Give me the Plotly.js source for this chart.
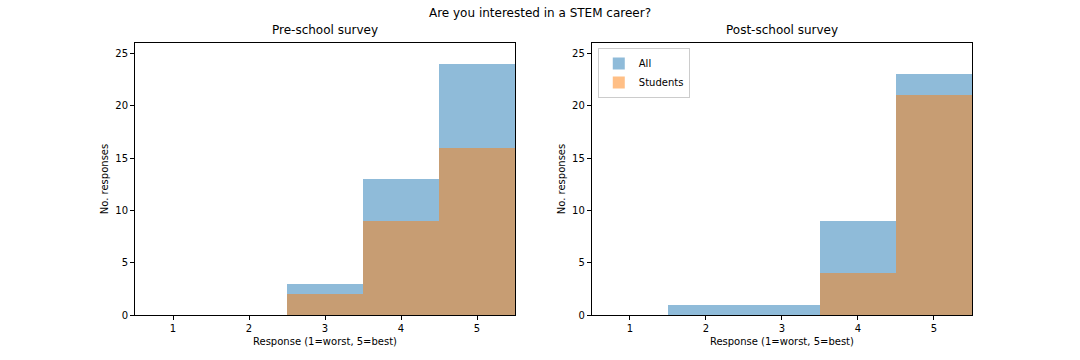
<!DOCTYPE html>
<html>
<head>
<meta charset="utf-8">
<script src="https://cdn.plot.ly/plotly-3.0.1.min.js"></script>
<style>
  body { margin: 0; background: #fff; }
  #chart { width: 1080px; height: 360px; }
</style>
</head>
<body>
<div id="chart"></div>
<script>
// response scale 1..5
var responses = [1, 2, 3, 4, 5];

// pre-school counts
var preAll = [0, 0, 3, 13, 24];
var preStudents = [0, 0, 2, 9, 16];

// post-school counts
var postAll = [0, 1, 1, 9, 23];
var postStudents = [0, 0, 0, 4, 21];

var blue = 'rgba(31,119,180,0.5)';
var orange = 'rgba(255,127,14,0.5)';

function bars(y, name, color, xa, ya, showlegend) {
    return {
        type: 'bar',
        x: responses,
        y: y,
        width: 1,
        name: name,
        xaxis: xa,
        yaxis: ya,
        showlegend: showlegend,
        marker: { color: color, line: { width: 0 } }
    };
}

var data = [
    bars(preAll, 'All', blue, 'x', 'y', false),
    bars(preStudents, 'Students', orange, 'x', 'y', false),
    bars(postAll, 'All', blue, 'x2', 'y2', true),
    bars(postStudents, 'Students', orange, 'x2', 'y2', true)
];

function xax(domain, anchor) {
    return {
        domain: domain,
        anchor: anchor,
        range: [0.5, 5.5],
        tickvals: responses,
        ticks: 'outside',
        ticklen: 4,
        tickcolor: '#000',
        showline: true,
        linecolor: '#000',
        linewidth: 1,
        mirror: true,
        showgrid: false,
        zeroline: false,
        tickfont: { size: 10, color: '#000' },
        title: { text: 'Response (1=worst, 5=best)', font: { size: 10, color: '#000' }, standoff: 4 }
    };
}

function yax(anchor) {
    return {
        domain: [0.125, 0.8806],
        anchor: anchor,
        range: [0, 26],
        tickvals: [0, 5, 10, 15, 20, 25],
        ticks: 'outside',
        ticklen: 4,
        tickcolor: '#000',
        showline: true,
        linecolor: '#000',
        linewidth: 1,
        mirror: true,
        showgrid: false,
        zeroline: false,
        tickfont: { size: 10, color: '#000' },
        title: { text: 'No. responses', font: { size: 10, color: '#000' }, standoff: 4 }
    };
}

var layout = {
    width: 1080,
    height: 360,
    margin: { l: 0, r: 0, t: 0, b: 0 },
    paper_bgcolor: '#fff',
    plot_bgcolor: '#fff',
    font: { family: 'DejaVu Sans', color: '#000' },
    barmode: 'overlay',
    bargap: 0,
    title: {
        text: 'Are you interested in a STEM career?',
        font: { size: 12, color: '#000' },
        x: 0.5, xanchor: 'center',
        y: 0.965, yanchor: 'middle'
    },
    xaxis: xax([0.125, 0.4769], 'y'),
    yaxis: yax('x'),
    xaxis2: xax([0.548, 0.9], 'y2'),
    yaxis2: yax('x2'),
    legend: {
        x: 0.5535, y: 0.867, xanchor: 'left', yanchor: 'top',
        bgcolor: 'rgba(255,255,255,0.8)',
        bordercolor: '#ccc', borderwidth: 1,
        font: { size: 10, color: '#000' },
        itemwidth: 30,
        tracegroupgap: 0
    },
    annotations: [
        { text: 'Pre-school survey', xref: 'paper', yref: 'paper', x: 0.3009, y: 0.8806, yshift: 4,
          xanchor: 'center', yanchor: 'bottom', showarrow: false, font: { size: 12, color: '#000' } },
        { text: 'Post-school survey', xref: 'paper', yref: 'paper', x: 0.724, y: 0.8806, yshift: 4,
          xanchor: 'center', yanchor: 'bottom', showarrow: false, font: { size: 12, color: '#000' } }
    ]
};

Plotly.newPlot('chart', data, layout, { staticPlot: true });
</script>
</body>
</html>
